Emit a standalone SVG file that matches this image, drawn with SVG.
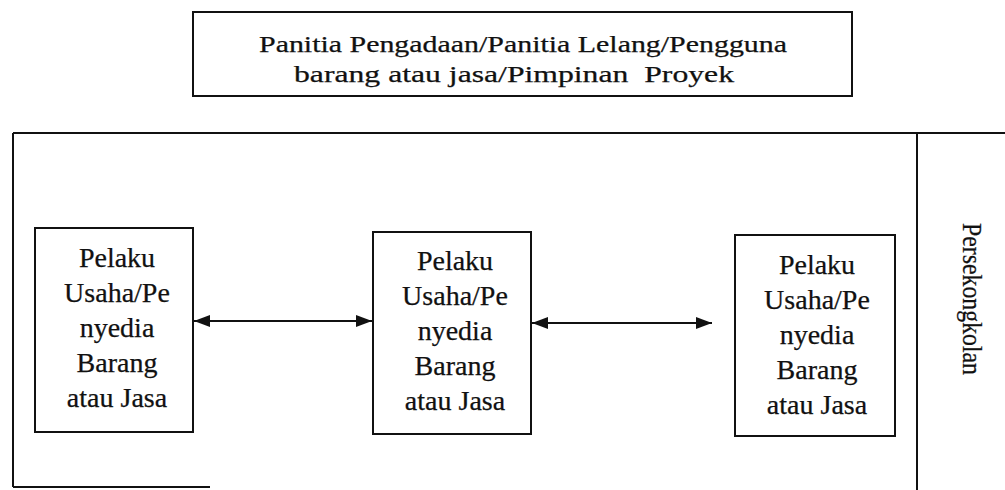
<svg xmlns="http://www.w3.org/2000/svg" width="1005" height="490" viewBox="0 0 1005 490">
<style>
.box{fill:#fff;stroke:#111;stroke-width:2}
.ln{stroke:#111;stroke-width:2;fill:none}
.t{font-family:'Liberation Serif','Times New Roman',serif;fill:#111;stroke:#111;stroke-width:0.25}
.nt{font-size:28px;text-anchor:middle}
.tt{font-size:23px}
.con{stroke:#111;stroke-width:2;fill:none;marker-start:url(#ah);marker-end:url(#ah)}
</style>
<defs>
<marker id="ah" viewBox="0 0 16 12" refX="16" refY="6" markerWidth="8" markerHeight="6" orient="auto-start-reverse" markerUnits="strokeWidth">
<path d="M0,0 L16,6 L0,12 z" fill="#111"/>
</marker>
</defs>
<rect width="1005" height="490" fill="#fff"/>
<g id="top">
<rect class="box" x="193" y="12" width="659" height="84"/>
<text class="t tt" x="259" y="52" textLength="528" lengthAdjust="spacingAndGlyphs">Panitia Pengadaan/Panitia Lelang/Pengguna</text>
<text class="t tt" x="294" y="82" textLength="440" lengthAdjust="spacingAndGlyphs" xml:space="preserve">barang atau jasa/Pimpinan  Proyek</text>
</g>
<g id="frame">
<path class="ln" d="M13,133 H1005 M13,133 V487 M13,487 H210 M917,133 V490"/>
<text class="t" x="0" y="0" font-size="28" text-anchor="middle" transform="translate(963,299) rotate(90)" textLength="152" lengthAdjust="spacingAndGlyphs">Persekongkolan</text>
</g>
<g id="node1">
<rect class="box" x="35" y="228" width="158" height="204"/>
<text class="t nt" x="117" y="267">Pelaku</text>
<text class="t nt" x="117" y="302">Usaha/Pe</text>
<text class="t nt" x="117" y="337">nyedia</text>
<text class="t nt" x="117" y="372">Barang</text>
<text class="t nt" x="117" y="407">atau Jasa</text>
</g>
<g id="node2">
<rect class="box" x="373" y="232" width="158" height="202"/>
<text class="t nt" x="455" y="270">Pelaku</text>
<text class="t nt" x="455" y="305">Usaha/Pe</text>
<text class="t nt" x="455" y="340">nyedia</text>
<text class="t nt" x="455" y="375">Barang</text>
<text class="t nt" x="455" y="410">atau Jasa</text>
</g>
<g id="node3">
<rect class="box" x="735" y="235" width="160" height="201"/>
<text class="t nt" x="817" y="274">Pelaku</text>
<text class="t nt" x="817" y="309">Usaha/Pe</text>
<text class="t nt" x="817" y="344">nyedia</text>
<text class="t nt" x="817" y="379">Barang</text>
<text class="t nt" x="817" y="414">atau Jasa</text>
</g>
<g id="connectors">
<line class="con" x1="194" y1="321" x2="372" y2="321"/>
<line class="con" x1="532" y1="323" x2="712" y2="323"/>
</g>
</svg>
